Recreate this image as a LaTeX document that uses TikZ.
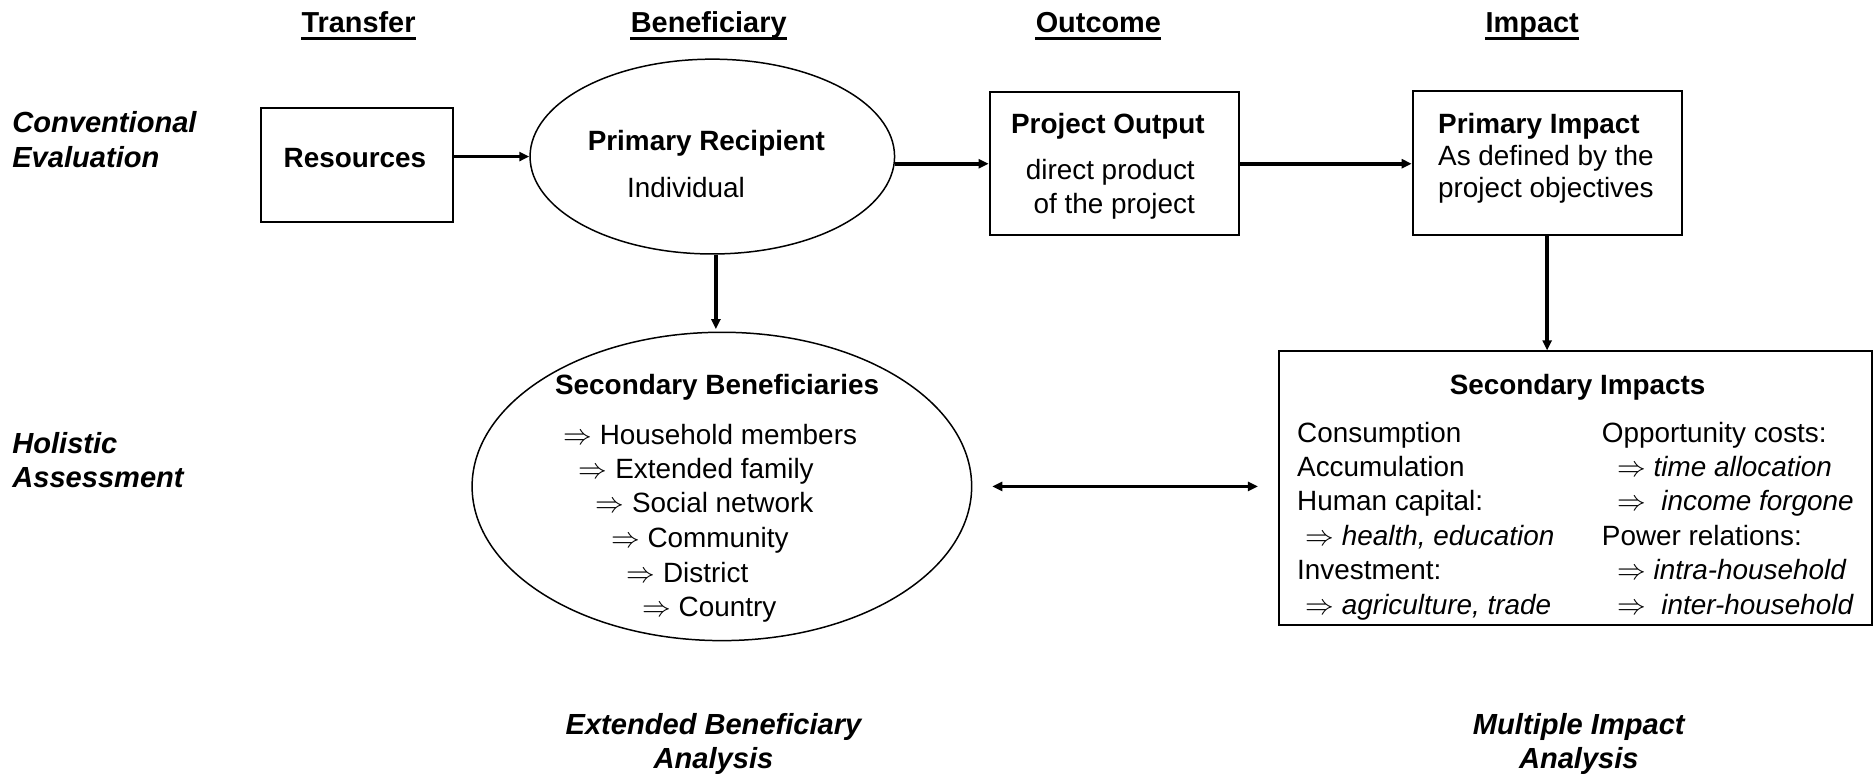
\documentclass[tikz,border=0pt]{standalone}
\usepackage{fontspec}
\setmainfont{Liberation Sans}
\usetikzlibrary{shapes.geometric,arrows.meta,fit}

\begin{document}
\begin{tikzpicture}[x=0.6pt,y=-0.6pt,
  txt/.style={inner sep=0pt, font=\fontsize{14}{17.3}\selectfont, text height=10pt, text depth=3pt},
  mtxt/.style={inner sep=0pt, font=\fontsize{14}{17.3}\selectfont},
  head/.style={txt, font=\fontsize{14.5}{17.3}\selectfont\bfseries},
  lab/.style={mtxt, align=left, anchor=base west, font=\fontsize{14.6}{17.3}\selectfont\bfseries\itshape},
  foot/.style={mtxt, align=center, anchor=base, font=\fontsize{14.6}{17.3}\selectfont\bfseries\itshape},
  box/.style={draw, line width=1pt, inner sep=0pt},
  oval/.style={draw, ellipse, line width=0.75pt, inner sep=0pt},
  arr/.style={line width=1.8pt, -{Triangle[length=5pt,width=4.5pt]}},
  darr/.style={line width=1.8pt, {Triangle[length=5pt,width=4.5pt]}-{Triangle[length=5pt,width=4.5pt]}},
  uline/.style={line width=1.5pt}
]
\useasboundingbox (0,0) rectangle (1568,649);

% column headings
\node[head, anchor=base] (hT) at (300,27) {Transfer};
\node[head, anchor=base] (hB) at (593,27) {Beneficiary};
\node[head, anchor=base] (hO) at (919,27) {Outcome};
\node[head, anchor=base] (hI) at (1282,27) {Impact};
\foreach \h in {hT,hB,hO,hI}
  \draw[uline] (\h.south west) -- (\h.south east);

% row labels (anchored at the baseline of the last line)
\node[lab] (conv) at (10,140) {Conventional\\Evaluation};
\node[lab] (holi) at (10,408) {Holistic\\Assessment};

% top row
\node[box, fit={(218,90) (379,186)}] (res) {};
\node[txt, anchor=base] (resT) at (297,140) {\bfseries Resources};

\node[oval, minimum width=183pt, minimum height=97.8pt] (pr) at (596,131) {};
\node[txt, anchor=base] (prT) at (591,126) {\bfseries Primary Recipient};
\node[txt, anchor=base] (prI) at (574,165) {Individual};

\node[box, fit={(828,77) (1037,197)}] (po) {};
\node[txt, anchor=base] (poT) at (927,112) {\bfseries Project Output};
\node[mtxt, anchor=base, align=center] (poD) at (929,179) {direct product\\\ of the project};

\node[box, fit={(1182,76) (1407,197)}] (pi) {};
\node[mtxt, anchor=base west, align=left, font=\fontsize{14}{16}\selectfont] (piT) at (1203,165)
  {\textbf{Primary Impact}\\As defined by the\\project objectives};

% bottom row
\node[oval, minimum width=250.8pt, minimum height=154.8pt] (sb) at (604,407) {};
\node[txt, anchor=base] (sbT) at (600,330) {\bfseries Secondary Beneficiaries};
\node[txt, anchor=base west] (sb1) at (471,372) {$\Rightarrow$ Household members};
\node[txt, anchor=base west] (sb2) at (484,400) {$\Rightarrow$ Extended family};
\node[txt, anchor=base west] (sb3) at (498,429) {$\Rightarrow$ Social network};
\node[txt, anchor=base west] (sb4) at (511,458) {$\Rightarrow$ Community};
\node[txt, anchor=base west] (sb5) at (524,487) {$\Rightarrow$ District};
\node[txt, anchor=base west] (sb6) at (537,516) {$\Rightarrow$ Country};

\node[box, fit={(1070,294) (1566.5,523)}] (si) {};
\node[txt, anchor=base] (siT) at (1320,330) {\bfseries Secondary Impacts};
\node[mtxt, anchor=base west, align=left] (siL) at (1085,514)
  {Consumption\\Accumulation\\Human capital:\\
   \hspace*{0.3em}$\Rightarrow$ \textit{health, education}\\Investment:\\
   \hspace*{0.3em}$\Rightarrow$ \textit{agriculture, trade}};
\node[mtxt, anchor=base west, align=left] (siR) at (1340,514)
  {Opportunity costs:\\
   \hspace*{0.55em}$\Rightarrow$ \textit{time allocation}\\
   \hspace*{0.55em}$\Rightarrow$\ \ \textit{income forgone}\\
   Power relations:\\
   \hspace*{0.55em}$\Rightarrow$ \textit{intra-household}\\
   \hspace*{0.55em}$\Rightarrow$\ \ \textit{inter-household}};

% analysis captions
\node[foot] (ext) at (597,643) {Extended Beneficiary\\Analysis};
\node[foot] (mul) at (1321,643) {Multiple Impact\\Analysis};

% connectors
\draw[arr] (pr.west -| res.east) -- (pr.west);
\draw[arr] (po.west -| pr.east) -- (po.west);
\draw[arr] (po.east) -- (po.east -| pi.west);
\draw[arr] (pi.south) -- (pi.south |- si.north);
\draw[arr] ([xshift=1.8pt]pr.south) -- ([xshift=1.8pt,yshift=1.2pt]pr.south |- sb.north);
\draw[darr, shorten <=10pt, shorten >=10pt] (sb.east) -- (sb.east -| si.west);
\end{tikzpicture}
\end{document}
